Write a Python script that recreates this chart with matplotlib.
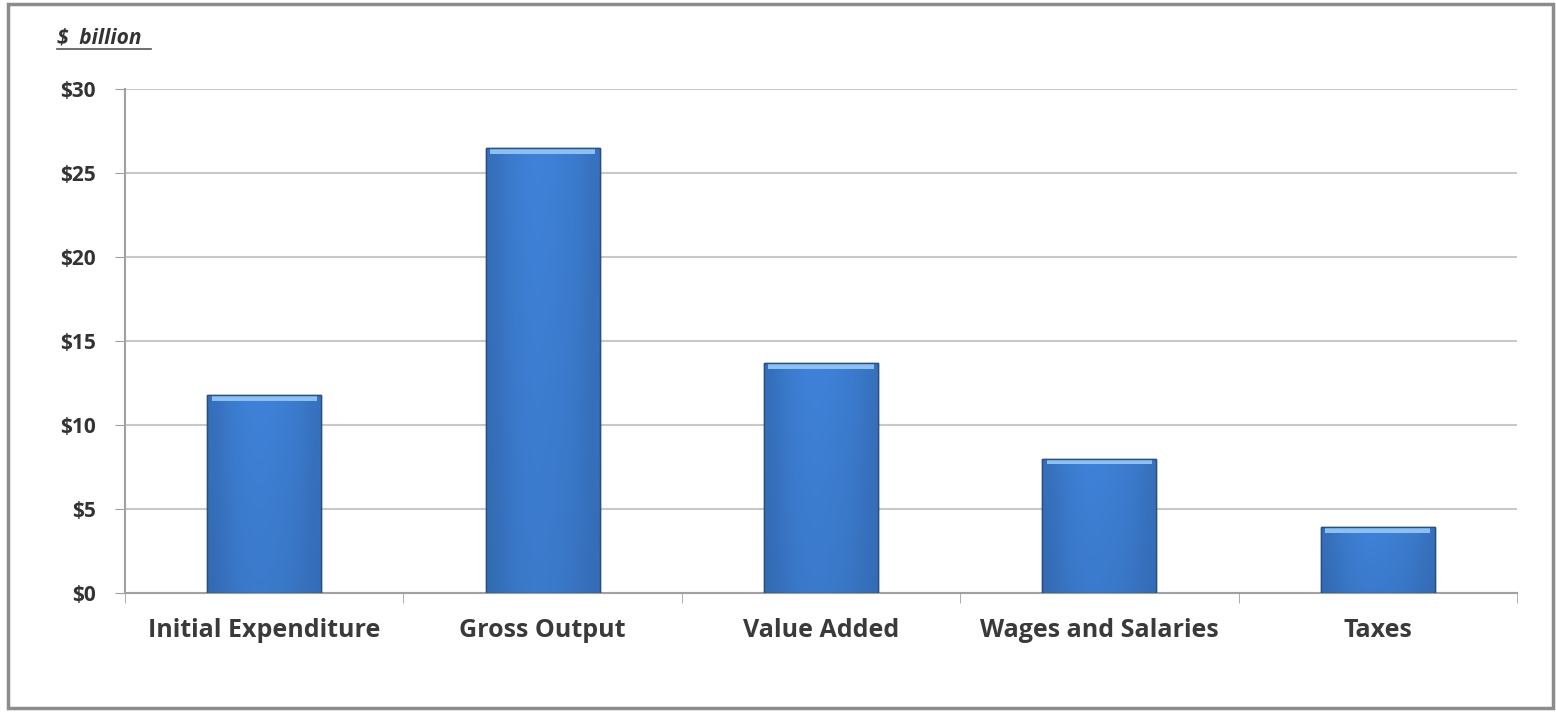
import matplotlib
matplotlib.use("Agg")
import matplotlib.pyplot as plt
import numpy as np
from matplotlib.patches import Rectangle
from matplotlib.colors import LinearSegmentedColormap

# values ($ billion)
categories = ["Initial Expenditure", "Gross Output", "Value Added",
              "Wages and Salaries", "Taxes"]
values = [11.8, 26.5, 13.7, 8.0, 3.9]
yticks = [0, 5, 10, 15, 20, 25, 30]
ytick_labels = ["$0", "$5", "$10", "$15", "$20", "$25", "$30"]

plt.rcParams['font.family'] = ['Open Sans', 'DejaVu Sans']

fig = plt.figure(figsize=(15.56, 7.12), dpi=100)
ax = fig.add_axes([125 / 1556, 1 - 593 / 712, (1517 - 125) / 1556, (593 - 89) / 712])

# outer frame like a pasted chart object
fig.patches.append(Rectangle((8 / 1556, 4 / 712), 1545 / 1556, 704 / 712,
                             transform=fig.transFigure, fill=False,
                             edgecolor="#8c8c8c", linewidth=2.5))

x = np.arange(len(categories))
bars = ax.bar(x, values, width=0.41, color="#3b79cc", edgecolor="#2a4f80",
              linewidth=1.0, zorder=3)

# gradient fill inside each bar: darker edges and bottom, lighter middle/top
hgrad = np.array([0.55, 0.8, 0.95, 1.0, 0.97, 0.9, 0.8, 0.6])
vgrad = np.linspace(0.82, 1.0, 20)[:, np.newaxis]
cmap = LinearSegmentedColormap.from_list("bar", ["#2a5796", "#3f82d8"])
for b in bars:
    x0, w, h = b.get_x(), b.get_width(), b.get_height()
    im = ax.imshow(hgrad[np.newaxis, :] * vgrad, extent=[x0, x0 + w, 0, h],
                   origin="lower", aspect="auto", cmap=cmap, vmin=0, vmax=1,
                   zorder=3.5, interpolation="bicubic")
    im.set_clip_path(b)
    # light bevel highlight at the top of the bar
    ax.add_patch(Rectangle((x0 + w * 0.04, h - 0.35), w * 0.92, 0.3,
                           facecolor="#8cc0f2", edgecolor="none", zorder=4))
    ax.add_patch(Rectangle((x0, 0), w, h, fill=False, edgecolor="#2c4f7c",
                           linewidth=1.0, zorder=5))

ax.set_xlim(-0.5, len(categories) - 0.5)
ax.set_ylim(0, 30)
ax.set_yticks(yticks)
ax.set_yticklabels(ytick_labels, fontsize=15, fontweight="bold", color="#333333")
ax.set_xticks(x)
ax.set_xticklabels(categories, fontsize=18, fontweight="bold", color="#3a3a3a")
ax.tick_params(axis="x", length=0, pad=18)
ax.tick_params(axis="y", length=7, color="#a0a0a0", pad=14)
ax.set_xticks(np.arange(-0.5, len(categories)), minor=True)
ax.tick_params(axis="x", which="minor", length=7, color="#a0a0a0", direction="out")

ax.grid(axis="y", color="#c8c8c8", linewidth=1.5, zorder=0)
for s in ["top", "right"]:
    ax.spines[s].set_visible(False)
ax.spines["left"].set_color("#a0a0a0")
ax.spines["bottom"].set_color("#a0a0a0")
ax.spines["left"].set_linewidth(1.5)
ax.spines["bottom"].set_linewidth(1.5)

fig.text(57 / 1556, 1 - 38 / 712, "$  billion", fontsize=15, fontweight="bold",
         style="italic", color="#333333", va="center", ha="left")
fig.add_artist(plt.Line2D([57 / 1556, 151 / 1556], [1 - 49 / 712, 1 - 49 / 712],
                          transform=fig.transFigure, color="#555555", linewidth=1.2))

fig.savefig("out.png", dpi=100)
